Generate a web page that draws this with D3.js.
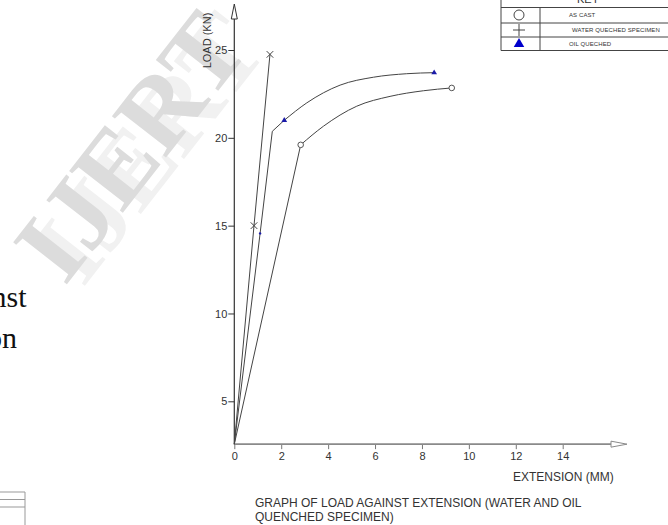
<!DOCTYPE html>
<html><head><meta charset="utf-8">
<script src="https://cdn.jsdelivr.net/npm/d3@7"></script>
<style>body{margin:0;background:#fff}svg{display:block}</style>
</head><body>
<svg id="c" width="668" height="525"></svg>
<script>
const xTicks=[0,2,4,6,8,10,12,14];
const yTicks=[5,10,15,20,25];
const yOrigin=2.56;
const asCastRise=[[0,2.56],[2.83,19.6]];
const asCastTail=[[2.83,19.6],[3.80,20.66],[5.22,21.80],[6.64,22.36],[8.06,22.68],[9.27,22.84]];
const asCastMarks=[[2.83,19.6],[9.27,22.84]];
const waterLine=[[0,2.56],[0.84,15.0],[1.52,24.75]];
const waterMarks=[[0.84,15.0],[1.52,24.75]];
const oilRise=[[0,2.56],[1.10,14.56],[1.62,20.37],[2.13,21.0]];
const oilTail=[[2.13,21.0],[3.09,21.99],[4.51,23.0],[5.93,23.45],[7.35,23.65],[8.52,23.71]];
const oilMarks=[[2.13,21.0],[8.52,23.71]];
const oilDot=[[1.10,14.56]];
const legendLabels=["AS CAST","WATER QUECHED SPECIMEN","OIL QUECHED"];

const svg=d3.select("#c");
const sans="'Liberation Sans', Arial, sans-serif";
const serif="'Liberation Serif', 'Times New Roman', serif";

// watermark
const wm=svg.append("g").attr("transform","translate(130,146) rotate(-52)");
wm.append("text").attr("x",10).attr("y",15).attr("text-anchor","middle").attr("dominant-baseline","central")
  .attr("font-family",serif).attr("font-weight","bold").attr("font-size",104).attr("fill","#f1f1f1").text("IJERT");
wm.append("text").attr("text-anchor","middle").attr("dominant-baseline","central")
  .attr("font-family",serif).attr("font-weight","bold").attr("font-size",104).attr("fill","#dcdcdc").text("IJERT");

// page bleed text
svg.append("text").attr("x",26.5).attr("y",306.7).attr("text-anchor","end").attr("font-family",serif).attr("font-size",30).attr("fill","#111").text("against");
svg.append("text").attr("x",17).attr("y",348).attr("text-anchor","end").attr("font-family",serif).attr("font-size",30).attr("fill","#111").text("extension");
const bl=svg.append("g").attr("stroke","#999").attr("stroke-width",1);
bl.append("line").attr("x1",25).attr("x2",25).attr("y1",492).attr("y2",525);
[492,499.5,507].forEach(v=>bl.append("line").attr("x1",0).attr("x2",25).attr("y1",v).attr("y2",v));

const x=d3.scaleLinear().domain([0,14]).range([234.3,562.7]);
const y=d3.scaleLinear().domain([5,25]).range([401.3,50]);
const x0=x(0), y0=y(yOrigin);

// x axis
const xa=svg.append("g").attr("transform",`translate(0,${y0})`)
  .call(d3.axisBottom(x).tickValues(xTicks).tickSize(5).tickPadding(3).tickFormat(d3.format("d")));
xa.select(".domain").remove();
xa.selectAll("line").attr("stroke","#777");
xa.selectAll("text").attr("font-family",sans).attr("font-size",11).attr("fill","#333");
svg.append("line").attr("x1",x0).attr("x2",611).attr("y1",y0).attr("y2",y0).attr("stroke","#8a8a8a").attr("stroke-width",1.6);
svg.append("polygon").attr("points",`627,${y0} 611,${y0-3} 611,${y0+3}`).attr("fill","#fff").attr("stroke","#8a8a8a").attr("stroke-width",1);

// y axis
const ya=svg.append("g").attr("transform",`translate(${x0},0)`)
  .call(d3.axisLeft(y).tickValues(yTicks).tickSize(6).tickPadding(1).tickFormat(d3.format("d")));
ya.select(".domain").remove();
ya.selectAll("line").attr("stroke","#333");
ya.selectAll("text").attr("font-family",sans).attr("font-size",11).attr("fill","#333");
svg.append("line").attr("x1",x0).attr("x2",x0).attr("y1",y0).attr("y2",19).attr("stroke","#333").attr("stroke-width",1.2);
svg.append("polygon").attr("points",`${x0},4 ${x0-3},19 ${x0+3},19`).attr("fill","#fff").attr("stroke","#333").attr("stroke-width",1);

// labels
svg.append("text").attr("transform","translate(211,40.5) rotate(-90)").attr("text-anchor","middle")
  .attr("font-family",sans).attr("font-size",11).attr("fill","#333").text("LOAD (KN)");
svg.append("text").attr("x",513).attr("y",481).attr("font-family",sans).attr("font-size",12).attr("fill","#333").text("EXTENSION (MM)");
svg.append("text").attr("x",255).attr("y",507).attr("font-family",sans).attr("font-size",12).attr("fill","#333").text("GRAPH OF LOAD AGAINST EXTENSION (WATER AND OIL");
svg.append("text").attr("x",255).attr("y",521).attr("font-family",sans).attr("font-size",12).attr("fill","#333").text("QUENCHED SPECIMEN)");

// lines
const lin=d3.line().x(d=>x(d[0])).y(d=>y(d[1]));
const crv=d3.line().x(d=>x(d[0])).y(d=>y(d[1])).curve(d3.curveMonotoneX);
const ls=svg.append("g").attr("fill","none").attr("stroke","#444").attr("stroke-width",1);
ls.append("path").attr("d",lin(asCastRise));
ls.append("path").attr("d",crv(asCastTail));
ls.append("path").attr("d",lin(waterLine));
ls.append("path").attr("d",lin(oilRise));
ls.append("path").attr("d",crv(oilTail));

// markers
svg.append("g").selectAll("circle").data(asCastMarks).join("circle")
  .attr("cx",d=>x(d[0])).attr("cy",d=>y(d[1])).attr("r",2.8).attr("fill","#fff").attr("stroke","#555").attr("stroke-width",1);
svg.append("g").selectAll("path").data(waterMarks).join("path")
  .attr("transform",d=>`translate(${x(d[0])},${y(d[1])})`)
  .attr("d",d3.symbol(d3.symbolX,30)).attr("fill","none").attr("stroke","#444").attr("stroke-width",1);
svg.append("g").selectAll("path").data(oilMarks).join("path")
  .attr("transform",d=>`translate(${x(d[0])},${y(d[1])})`)
  .attr("d",d3.symbol(d3.symbolTriangle,14)).attr("fill","#1a1aa8");
svg.append("g").selectAll("circle").data(oilDot).join("circle")
  .attr("cx",d=>x(d[0])).attr("cy",d=>y(d[1])).attr("r",1.2).attr("fill","#1a1aa8");

// legend table
const lg=svg.append("g").attr("stroke","#444").attr("stroke-width",1).attr("fill","none");
[7.5,23,37,50.5].forEach(v=>lg.append("line").attr("x1",501).attr("x2",668).attr("y1",v).attr("y2",v));
lg.append("line").attr("x1",501).attr("x2",501).attr("y1",-2).attr("y2",50.5);
lg.append("line").attr("x1",540).attr("x2",540).attr("y1",7.5).attr("y2",50.5);
svg.append("text").attr("x",588).attr("y",3).attr("text-anchor","middle").attr("font-family",sans).attr("font-size",11).attr("fill","#333").text("KEY");
const rowY=[15.2,30,43.8];
svg.append("circle").attr("cx",519).attr("cy",15).attr("r",5).attr("fill","#fff").attr("stroke","#444");
svg.append("path").attr("d","M513,30H525M519,24V36").attr("stroke","#444").attr("fill","none");
svg.append("path").attr("transform","translate(519,44)").attr("d",d3.symbol(d3.symbolTriangle,48)).attr("fill","#0000cc");
svg.append("g").selectAll("text").data(legendLabels).join("text")
  .attr("x",(d,i)=>i===1?572:569).attr("y",(d,i)=>rowY[i]).attr("dominant-baseline","central")
  .attr("font-family",sans).attr("font-size",6).attr("letter-spacing",0.1).attr("fill","#333").text(d=>d);
</script>
</body></html>
